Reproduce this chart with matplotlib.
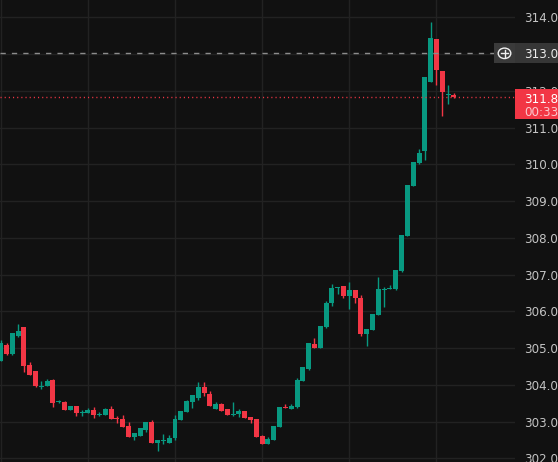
import matplotlib
matplotlib.use("Agg")
import matplotlib.pyplot as plt
from matplotlib.patches import Rectangle, Circle
from matplotlib.lines import Line2D

# ---- data (OHLC per candle) ----
opens = [304.66, 305.08, 304.84, 305.33, 305.57, 304.54, 304.38, 303.95, 303.97, 304.13,
         303.52, 303.53, 303.31, 303.42, 303.23, 303.24, 303.31, 303.19, 303.18, 303.34,
         303.10, 303.07, 302.88, 302.58, 302.61, 302.77, 302.99, 302.42, 302.46, 302.42,
         302.55, 303.04, 303.26, 303.53, 303.64, 303.94, 303.75, 303.34, 303.48, 303.34,
         303.19, 303.20, 303.29, 303.12, 303.07, 302.61, 302.39, 302.50, 302.85, 303.38,
         303.34, 303.40, 304.11, 304.43, 305.11, 305.00, 305.57, 306.23, 306.63, 306.69,
         306.42, 306.58, 306.36, 305.38, 305.49, 305.90, 306.59, 306.62, 306.61, 307.10,
         308.05, 309.41, 310.04, 310.36, 312.24, 313.41, 312.54, 311.89, 311.88]
highs = [305.21, 305.13, 305.41, 305.65, 305.57, 304.62, 304.38, 304.10, 304.16, 304.16,
         303.59, 303.56, 303.42, 303.42, 303.31, 303.37, 303.40, 303.26, 303.37, 303.42,
         303.15, 303.18, 302.99, 302.69, 302.82, 303.00, 303.04, 302.50, 302.66, 302.64,
         303.18, 303.29, 303.59, 303.72, 304.08, 304.08, 303.83, 303.53, 303.51, 303.34,
         303.53, 303.34, 303.29, 303.12, 303.07, 302.64, 302.58, 302.88, 303.40, 303.48,
         303.48, 304.18, 304.48, 305.14, 305.27, 305.60, 306.28, 306.74, 306.67, 306.69,
         306.80, 306.58, 306.44, 305.52, 305.93, 306.93, 306.66, 306.72, 307.12, 308.08,
         309.44, 310.06, 310.42, 312.37, 313.87, 313.41, 312.54, 312.16, 311.94]
lows = [304.66, 304.81, 304.81, 305.31, 304.36, 304.27, 303.95, 303.89, 303.97, 303.40,
        303.50, 303.31, 303.31, 303.16, 303.16, 303.24, 303.10, 303.15, 303.18, 303.07,
        302.97, 302.85, 302.58, 302.50, 302.61, 302.71, 302.42, 302.20, 302.39, 302.42,
        302.50, 303.04, 303.26, 303.37, 303.59, 303.70, 303.42, 303.34, 303.29, 303.18,
        303.15, 303.12, 303.10, 302.96, 302.58, 302.39, 302.39, 302.50, 302.85, 303.36,
        303.34, 303.38, 304.11, 304.40, 305.00, 305.00, 305.54, 306.14, 306.47, 306.36,
        306.06, 306.23, 305.33, 305.06, 305.49, 305.90, 306.12, 306.62, 306.58, 307.07,
        308.05, 309.41, 310.01, 310.12, 312.24, 312.16, 311.31, 311.64, 311.80]
closes = [305.13, 304.84, 305.41, 305.46, 304.52, 304.27, 303.98, 303.97, 304.10, 303.51,
          303.54, 303.31, 303.42, 303.24, 303.25, 303.31, 303.18, 303.21, 303.34, 303.07,
          303.08, 302.85, 302.58, 302.69, 302.82, 302.99, 302.42, 302.50, 302.48, 302.55,
          303.07, 303.29, 303.56, 303.72, 303.94, 303.78, 303.42, 303.48, 303.29, 303.18,
          303.21, 303.29, 303.10, 303.04, 302.58, 302.39, 302.53, 302.88, 303.40, 303.36,
          303.42, 304.13, 304.48, 305.14, 305.00, 305.60, 306.23, 306.63, 306.66, 306.42,
          306.58, 306.36, 305.38, 305.52, 305.93, 306.61, 306.61, 306.64, 307.12, 308.08,
          309.44, 310.06, 310.31, 312.37, 313.44, 312.57, 311.97, 311.91, 311.83]
price_ticks = [302, 303, 304, 305, 306, 307, 308, 309, 310, 311, 312, 313, 314]
vgrid_idx = [0, 15, 30, 45, 60, 75]
alert_price = 313.02
last_price = 311.83
countdown = "00:33"

# ---- style ----
BG = "#111111"
GRID = "#222222"
UP = "#089981"
DOWN = "#F23645"
TXT = "#c4c4c4"

W, H = 558, 462
fig = plt.figure(figsize=(W / 100, H / 100), dpi=100, facecolor=BG)
AXW = 515
ax = fig.add_axes([0, 0, AXW / W, 1])
ax.set_facecolor(BG)
for s in ax.spines.values():
    s.set_visible(False)

step = 5.81
x0 = 0.7
ax.set_xlim(-x0 / step, (AXW - x0) / step)
ppu = 36.75
ax.set_ylim(314 - (H - 17.3) / ppu, 314 + 17.3 / ppu)

# grid
for p in price_ticks:
    ax.axhline(p, color=GRID, lw=1, zorder=0)
for i in vgrid_idx:
    ax.axvline(i, color=GRID, lw=1, zorder=0)

# candles
min_h = 1.0 / ppu
for i, (o, h, l, c) in enumerate(zip(opens, highs, lows, closes)):
    col = UP if c >= o else DOWN
    ax.vlines(i, l, h, color=col, lw=1.0, zorder=2)
    bot = min(o, c)
    ht = max(abs(c - o), min_h)
    ax.bar(i, ht, bottom=bot, width=0.86, color=col, linewidth=0, zorder=3)

# alert dashed line
ax.axhline(alert_price, xmin=0, xmax=494 / AXW, color="#8c8c8c", lw=1,
           dashes=(3.8, 4.4), zorder=4)
# last price dotted line
ax.axhline(last_price, color=DOWN, lw=1, dashes=(0.8, 2.2), zorder=4)

# price scale labels
ax.yaxis.tick_right()
ax.set_yticks(price_ticks)
ax.set_yticklabels([f"{p:.2f}" for p in price_ticks])
ax.tick_params(axis="y", length=0, pad=6.5, labelsize=8.6, labelcolor=TXT)
ax.set_xticks([])


def fx(x):
    return x / W


def fy(y):
    return 1 - y / H


# alert label box
y_a = 17.3 + (314 - alert_price) * ppu
fig.add_artist(Rectangle((fx(494), fy(y_a + 10)), fx(21), 20 / H,
                         transform=fig.transFigure, facecolor="#3a3a3a",
                         edgecolor="none", zorder=5))
fig.add_artist(Rectangle((fx(515), fy(y_a + 10)), fx(43), 20 / H,
                         transform=fig.transFigure, facecolor="#363636",
                         edgecolor="none", zorder=5))
fig.add_artist(Circle((fx(504.5), fy(y_a)), 6.3 / W, transform=fig.transFigure,
                      facecolor="none", edgecolor="#f0f0f0", lw=1.0, zorder=6))
fig.add_artist(Line2D([fx(501), fx(508)], [fy(y_a), fy(y_a)],
                      transform=fig.transFigure, color="#f0f0f0", lw=1.0, zorder=6))
fig.add_artist(Line2D([fx(504.5), fx(504.5)], [fy(y_a - 3.5), fy(y_a + 3.5)],
                      transform=fig.transFigure, color="#f0f0f0", lw=1.0, zorder=6))
fig.text(fx(524), fy(y_a), f"{alert_price:.2f}", color="#ececec", fontsize=8.6,
         ha="left", va="center_baseline", zorder=7)

# last price label box
y_l = 17.3 + (314 - last_price) * ppu
fig.add_artist(Rectangle((fx(515), fy(119.3)), fx(43), 30 / H,
                         transform=fig.transFigure, facecolor=DOWN,
                         edgecolor="none", zorder=5))
fig.text(fx(524), fy(y_l + 0.5), f"{last_price:.2f}", color="#ffffff", fontsize=8.6,
         ha="left", va="center_baseline", zorder=7)
fig.text(fx(524), fy(111.5), countdown, color="#fbc9ce", fontsize=8.6,
         ha="left", va="center_baseline", zorder=7)

fig.savefig("out.png", dpi=100, facecolor=BG)
